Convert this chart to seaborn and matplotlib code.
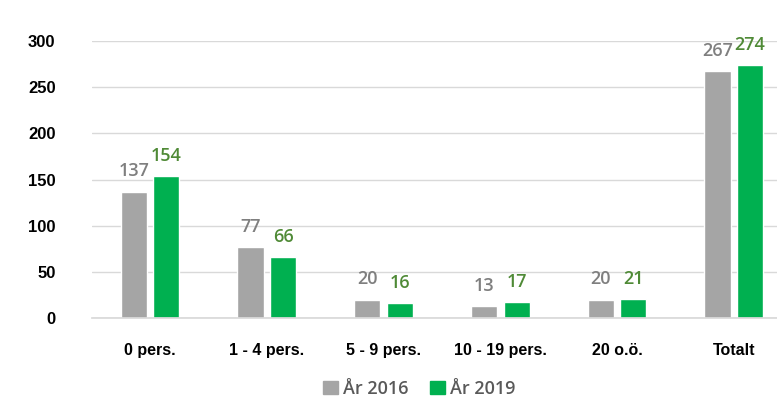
import matplotlib
matplotlib.use("Agg")
import matplotlib.pyplot as plt
import seaborn as sns
import pandas as pd

# Data
kategorier = ["0 pers.", "1 - 4 pers.", "5 - 9 pers.", "10 - 19 pers.", "20 o.ö.", "Totalt"]
ar_2016 = [137, 77, 20, 13, 20, 267]
ar_2019 = [154, 66, 16, 17, 21, 274]
serier = ["År 2016", "År 2019"]

df = pd.DataFrame({
    "kategori": kategorier * 2,
    "antal": ar_2016 + ar_2019,
    "ar": [serier[0]] * len(kategorier) + [serier[1]] * len(kategorier),
})

sns.set_theme(style="white")
plt.rcParams["font.family"] = ["Liberation Sans", "DejaVu Sans"]

fig = plt.figure(figsize=(7.77, 4.12), dpi=100)
ax = fig.add_axes([0.118, 0.228, 0.882, 0.6725])

farger = {"År 2016": "#a5a5a5", "År 2019": "#00b050"}
sns.barplot(data=df, x="kategori", y="antal", hue="ar", palette=farger,
            width=0.56, gap=0.2, saturation=1, ax=ax, legend=False)

ax.set_ylim(0, 300)
ax.set_xlim(-0.5, 5.37)
ax.set_yticks(range(0, 301, 50))
ax.yaxis.grid(True, color="#d9d9d9", linewidth=1)
ax.set_axisbelow(True)
for s in ["top", "right", "left"]:
    ax.spines[s].set_visible(False)
ax.spines["bottom"].set_color("#d9d9d9")
ax.tick_params(axis="y", length=0, pad=26, labelsize=12)
ax.tick_params(axis="x", length=0, pad=18, labelsize=11.5)
for lbl in ax.get_yticklabels() + ax.get_xticklabels():
    lbl.set_fontweight("bold")
    lbl.set_color("black")
ax.set_xlabel("")
ax.set_ylabel("")

# Värdeetiketter
etikettfarger = ["#7f7f7f", "#4f8a36"]
for cont, fc in zip(ax.containers, etikettfarger):
    ax.bar_label(cont, padding=8, color=fc, fontsize=13, fontweight="semibold",
                 family=["Open Sans", "DejaVu Sans"], clip_on=False)

# Legend
handles = [plt.Rectangle((0, 0), 1, 1, color=farger[s]) for s in serier]
fig.legend(handles, serier, loc="lower center", bbox_to_anchor=(0.54, -0.005),
           ncol=2, frameon=False, handlelength=0.8, handleheight=0.8,
           handletextpad=0.3, columnspacing=1.2,
           prop={"family": ["Open Sans", "DejaVu Sans"], "size": 13,
                 "weight": "semibold"})
for t in fig.legends[0].get_texts():
    t.set_color("#595959")

fig.savefig("out.png", dpi=100)
